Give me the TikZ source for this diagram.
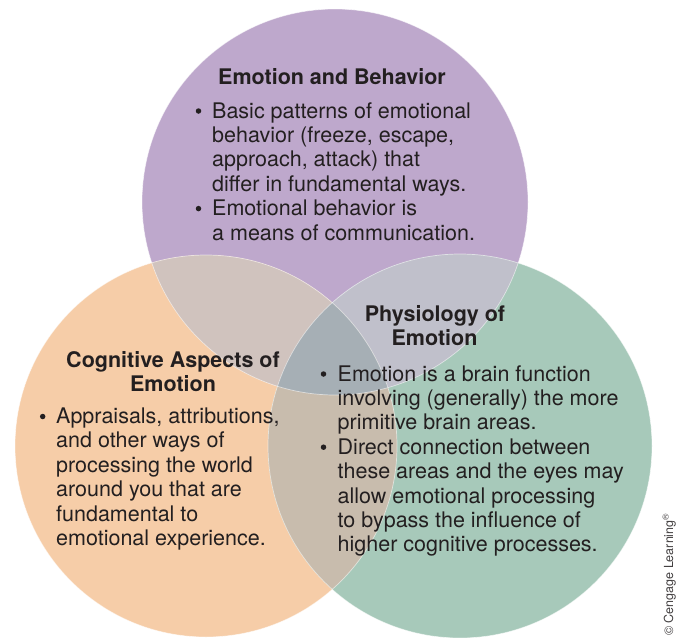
\documentclass[tikz,border=0pt]{standalone}
\usepackage{fontspec}
\setmainfont{TeX Gyre Heros}
\definecolor{cpurple}{HTML}{BEA8CC}
\definecolor{corange}{HTML}{F6CDA8}
\definecolor{cgreen}{HTML}{A7C9BA}
\definecolor{cpo}{HTML}{D0C3BE}
\definecolor{cpg}{HTML}{C0C0CB}
\definecolor{cog}{HTML}{C8BCAD}
\definecolor{cpog}{HTML}{A6AFB5}
\definecolor{ink}{HTML}{231F20}
\newcommand\txtline[4]{\node[txt] (#1) at (#2,-#3) {#4};}
\newcommand\bulletdot[3]{\node[bul] (#1) at (#2,-#3) {};}
\begin{document}
\begin{tikzpicture}[x=1pt,y=1pt,
  txt/.style={font=\fontsize{21.5}{24.4}\selectfont, text=ink, inner sep=0pt, anchor=base west},
  ttl/.style={font=\fontsize{21.5}{24.4}\selectfont\bfseries, text=ink, inner sep=0pt, anchor=base},
  bul/.style={circle, fill=ink, inner sep=0pt, minimum size=5.5pt},
  rim/.style={draw=white, draw opacity=0.55, line width=0.7pt}]
\useasboundingbox (0,0) rectangle (685,-637);
\coordinate (P) at (335,-202);
\coordinate (O) at (206,-446);
\coordinate (G) at (460,-446);
\def\rP{193}\def\rO{191}\def\rG{192}
% base circles
\fill[cpurple] (P) circle (\rP);
\fill[corange] (O) circle (\rO);
\fill[cgreen] (G) circle (\rG);
% pairwise overlaps
\begin{scope}\clip (P) circle (\rP); \fill[cpo] (O) circle (\rO);\end{scope}
\begin{scope}\clip (P) circle (\rP); \fill[cpg] (G) circle (\rG);\end{scope}
\begin{scope}\clip (O) circle (\rO); \fill[cog] (G) circle (\rG);\end{scope}
% triple overlap
\begin{scope}\clip (P) circle (\rP); \clip (O) circle (\rO); \fill[cpog] (G) circle (\rG);\end{scope}
% faint rims
\path[rim] (P) circle (\rP);
\path[rim] (O) circle (\rO);
\path[rim] (G) circle (\rG);
% Emotion and Behavior
\node[ttl] (t1) at (332,-84) {Emotion and Behavior};
\bulletdot{b1}{198.5}{111}
\txtline{a1}{212}{118}{Basic patterns of emotional}
\txtline{a2}{212}{142.4}{behavior (freeze, escape,}
\txtline{a3}{212}{166.8}{approach, attack) that}
\txtline{a4}{212}{191.2}{differ in fundamental ways.}
\bulletdot{b2}{198.5}{208.6}
\txtline{a5}{212}{215.6}{Emotional behavior is}
\txtline{a6}{212}{240}{a means of communication.}
% Physiology of Emotion
\node[ttl] (t2) at (435,-321) {Physiology of};
\node[ttl] (t3) at (434.5,-345) {Emotion};
\bulletdot{b3}{323.5}{374}
\txtline{p1}{337.5}{381}{Emotion is a brain function}
\txtline{p2}{337.5}{405.4}{involving (generally) the more}
\txtline{p3}{337.5}{429.8}{primitive brain areas.}
\bulletdot{b4}{323.5}{447.2}
\txtline{p4}{337.5}{454.2}{Direct connection between}
\txtline{p5}{337.5}{478.6}{these areas and the eyes may}
\txtline{p6}{337.5}{503}{allow emotional processing}
\txtline{p7}{337.5}{527.4}{to bypass the influence of}
\txtline{p8}{337.5}{551.8}{higher cognitive processes.}
% Cognitive Aspects of Emotion
\node[ttl] (t4) at (173,-367) {Cognitive Aspects of};
\node[ttl] (t5) at (173,-391) {Emotion};
\bulletdot{b5}{42.7}{416.5}
\txtline{c1}{56}{423.5}{Appraisals, attributions,}
\txtline{c2}{56}{447.9}{and other ways of}
\txtline{c3}{56}{472.3}{processing the world}
\txtline{c4}{56}{496.7}{around you that are}
\txtline{c5}{56}{521.1}{fundamental to}
\txtline{c6}{56}{545.5}{emotional experience.}
% copyright
\node[font=\fontsize{12.5}{14}\selectfont, text=ink!85, inner sep=0pt, anchor=base west, rotate=90] (cr) at (673,-636) {© Cengage Learning\textsuperscript{®}};
\end{tikzpicture}
\end{document}
